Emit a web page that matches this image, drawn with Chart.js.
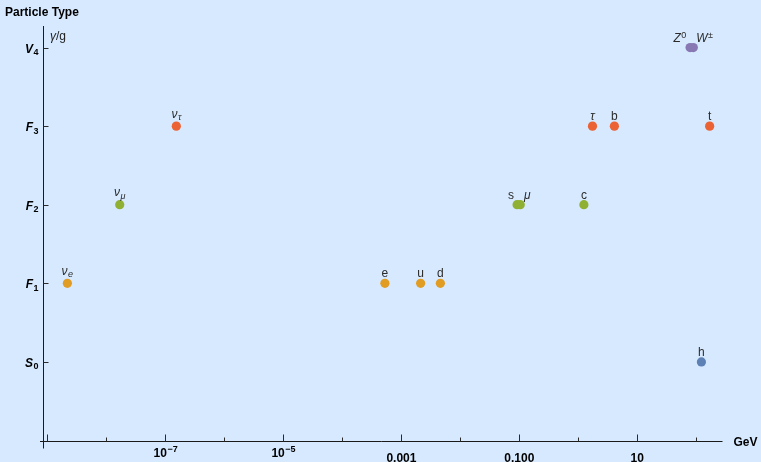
<!DOCTYPE html>
<html><head><meta charset="utf-8">
<script src="https://cdn.jsdelivr.net/npm/chart.js@4/dist/chart.umd.min.js"></script>
<style>html,body{margin:0;padding:0;background:#D6E9FE;overflow:hidden}canvas{display:block}</style>
</head><body><canvas id="c" width="761" height="462"></canvas>
<script>
// ---- data ----
const typeLabels = ['S_0', 'F_1', 'F_2', 'F_3', 'V_4'];   // y categories 0..4
const scalarNames = ['h'];
const scalarMasses = [125.1];
const f1Names = ['ν_e', 'e', 'u', 'd'];
const f1Masses = [2.2e-9, 0.000535, 0.00216, 0.00467];
const f2Names = ['ν_μ', 's', 'μ', 'c'];
const f2Masses = [1.7e-8, 0.0934, 0.1057, 1.27];
const f3Names = ['ν_τ', 'τ', 'b', 't'];
const f3Masses = [1.55e-7, 1.777, 4.18, 172.7];
const v4Names = ['Z^0', 'W^±'];
const v4Masses = [91.19, 80.38];
const xMajorTicks = [1e-9, 1e-7, 1e-5, 1e-3, 1e-1, 10];
const xMinorTicks = [1e-8, 1e-6, 1e-4, 1e-2, 1, 100];
const xLabelValues = [1e-7, 1e-5, 1e-3, 0.1, 10];
const xLabelTexts = ['10^−7', '10^−5', '0.001', '0.100', '10'];
const xTitle = 'GeV';
const yTitle = 'Particle Type';
const yUnit = 'γ/g';

// ---- styles ----
const groups = [
  {names: scalarNames, masses: scalarMasses, color: '#5E81B5'},
  {names: f1Names, masses: f1Masses, color: '#E19C24'},
  {names: f2Names, masses: f2Masses, color: '#8FB032'},
  {names: f3Names, masses: f3Masses, color: '#EB6235'},
  {names: v4Names, masses: v4Masses, color: '#8778B3'}
];
const labelShift = {'s': -6, 'μ': 7, 'Z^0': -13.5, 'W^±': 14.5};
const FONT = '"Liberation Sans", Arial, sans-serif';
const BG = '#D6E9FE';

function rich(ctx, str, x, y, o) {
  const m = str.match(/^(.*?)([_^])(.*)$/);
  const base = m ? m[1] : str, kind = m ? m[2] : null, scr = m ? m[3] : '';
  const bItal = o.baseItalic !== undefined ? o.baseItalic : /[νμτγZW]/.test(base);
  const sItal = o.scriptItalic !== undefined ? o.scriptItalic : /[a-zA-Zνμτ]/.test(scr);
  const w8 = o.bold ? 'bold ' : '';
  const bf = (bItal ? 'italic ' : '') + w8 + o.size + 'px ' + FONT;
  const sf = (sItal ? 'italic ' : '') + w8 + o.ssize + 'px ' + FONT;
  ctx.font = bf; const bw = ctx.measureText(base).width;
  let sw = 0;
  if (kind) { ctx.font = sf; sw = ctx.measureText(scr).width; }
  const gap = kind ? 0.5 : 0;
  const total = bw + gap + sw;
  let x0 = o.align === 'right' ? x - total : (o.align === 'left' ? x : x - total / 2);
  ctx.textAlign = 'left'; ctx.textBaseline = 'alphabetic';
  ctx.fillStyle = o.color;
  ctx.font = bf; ctx.fillText(base, x0, y);
  if (kind) {
    ctx.font = sf;
    const dy = kind === '_' ? o.subDy : -o.supDy;
    ctx.fillText(scr, x0 + bw + gap, y + dy);
  }
}

const decorPlugin = {
  id: 'decor',
  beforeDraw(chart) {
    const ctx = chart.ctx;
    ctx.save(); ctx.fillStyle = BG; ctx.fillRect(0, 0, chart.width, chart.height); ctx.restore();
  },
  beforeDatasetsDraw(chart) {
    const ctx = chart.ctx, xs = chart.scales.x, ys = chart.scales.y, a = chart.chartArea;
    ctx.save();
    const ax = Math.round(a.left) + 0.5, ay = Math.round(a.bottom) + 0.5;
    ctx.strokeStyle = '#1a1a1a'; ctx.lineWidth = 1;
    ctx.beginPath();
    ctx.moveTo(ax - 3.5, ay); ctx.lineTo(a.right, ay);
    ctx.moveTo(ax, a.top); ctx.lineTo(ax, ay + 7);
    ctx.stroke();
    ctx.strokeStyle = '#2a2a2a';
    ctx.beginPath();
    xMajorTicks.forEach(v => { const px = Math.round(xs.getPixelForValue(v)) + 0.5; ctx.moveTo(px, ay); ctx.lineTo(px, ay - 7); });
    xMinorTicks.forEach(v => { const px = Math.round(xs.getPixelForValue(v)) + 0.5; ctx.moveTo(px, ay); ctx.lineTo(px, ay - 4); });
    typeLabels.forEach((t, k) => { const py = Math.round(ys.getPixelForValue(k)) + 0.5; ctx.moveTo(ax, py); ctx.lineTo(ax + 5, py); });
    ctx.stroke();
    // x tick labels
    xLabelValues.forEach((v, i) => {
      const px = xs.getPixelForValue(v) + 0.5;
      const t = xLabelTexts[i];
      if (t.indexOf('^') >= 0) rich(ctx, t, px, ay + 15.5, {size: 12, ssize: 9, bold: true, align: 'center', color: '#000', supDy: 5, baseItalic: false, scriptItalic: false});
      else rich(ctx, t, px, ay + 20.5, {size: 12, ssize: 9, bold: true, align: 'center', color: '#000', baseItalic: false});
    });
    // y tick labels
    typeLabels.forEach((t, k) => {
      const py = ys.getPixelForValue(k);
      rich(ctx, t, ax - 5, py + 5, {size: 12, ssize: 9, bold: true, align: 'right', color: '#000', subDy: 2.5, baseItalic: true, scriptItalic: false});
    });
    // titles
    ctx.fillStyle = '#000'; ctx.textAlign = 'left'; ctx.textBaseline = 'alphabetic';
    ctx.font = 'bold 12px ' + FONT; ctx.fillText(yTitle, 5, 16);
    ctx.fillText(xTitle, a.right + 11, ay + 4.5);
    const ug = yUnit.split('/');
    ctx.font = 'italic 12px ' + FONT; ctx.fillStyle = '#222';
    ctx.fillText(ug[0], ax + 6.5, 40);
    const gw = ctx.measureText(ug[0]).width;
    ctx.font = '12px ' + FONT; ctx.fillText('/' + ug[1], ax + 6.5 + gw, 40);
    ctx.restore();
  },
  afterDatasetsDraw(chart) {
    const ctx = chart.ctx;
    ctx.save();
    chart.data.datasets.forEach((ds, di) => {
      const meta = chart.getDatasetMeta(di);
      meta.data.forEach((el, i) => {
        const name = ds.names[i];
        const dx = labelShift[name] || 0;
        const hasSub = name.indexOf('_') >= 0;
        rich(ctx, name, el.x + dx, el.y - (hasSub ? 8.5 : 6), {size: 12, ssize: 9, bold: false, align: 'center', color: '#2b2b2b', subDy: 2.5, supDy: 4});
      });
    });
    ctx.restore();
  }
};

new Chart(document.getElementById('c'), {
  type: 'scatter',
  data: {
    datasets: groups.map((g, k) => ({
      label: typeLabels[k],
      names: g.names,
      data: g.masses.map(m => ({x: m, y: k})),
      backgroundColor: g.color,
      borderWidth: 0,
      pointRadius: 4.6,
      pointHoverRadius: 4.6
    }))
  },
  options: {
    responsive: false,
    animation: false,
    devicePixelRatio: 1,
    events: [],
    layout: {padding: {left: 43, right: 38.5, top: 26, bottom: 21.5}},
    plugins: {legend: {display: false}, tooltip: {enabled: false}},
    scales: {
      x: {type: 'logarithmic', display: false, min: Math.pow(10, -9.071), max: Math.pow(10, 2.455)},
      y: {type: 'linear', display: false, min: -1, max: 4.274}
    }
  },
  plugins: [decorPlugin]
});
</script>
</body></html>
